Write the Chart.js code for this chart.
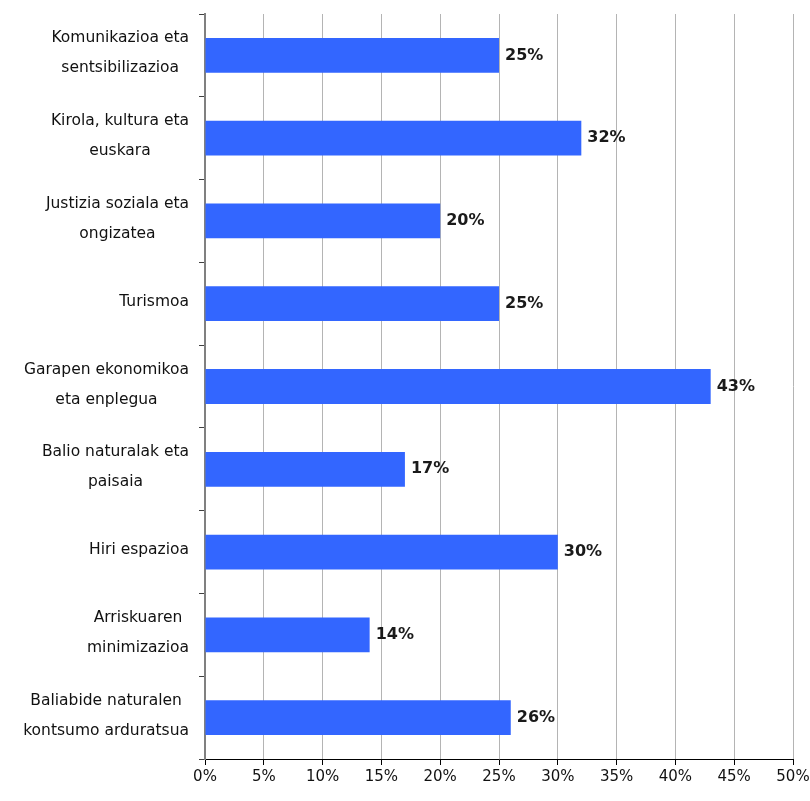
<!DOCTYPE html>
<html>
<head>
<meta charset="utf-8">
<script src="https://cdn.jsdelivr.net/npm/chart.js@4/dist/chart.umd.min.js"></script>
<style>
  html, body { margin: 0; padding: 0; background: #fff; }
  #wrap { width: 810px; height: 801px; }
</style>
</head>
<body>
<div id="wrap"><canvas id="chart" width="810" height="801"></canvas></div>
<script>
// Categories and shares.
const categories = [
  ['Komunikazioa eta', 'sentsibilizazioa'],
  ['Kirola, kultura eta', 'euskara'],
  ['Justizia soziala eta', 'ongizatea'],
  ['Turismoa'],
  ['Garapen ekonomikoa', 'eta enplegua'],
  ['Balio naturalak eta', 'paisaia'],
  ['Hiri espazioa'],
  ['Arriskuaren', 'minimizazioa'],
  ['Baliabide naturalen', 'kontsumo arduratsua'],
];
const shares = [25, 32, 20, 25, 43, 17, 30, 14, 26];
const xTicks = [0, 5, 10, 15, 20, 25, 30, 35, 40, 45, 50];

const FONT = '"DejaVu Sans", sans-serif';

// Category labels: lines centred inside a right-aligned block.
const categoryLabels = {
  id: 'categoryLabels',
  afterDraw(chart) {
    const ctx = chart.ctx;
    const y = chart.scales.y;
    ctx.save();
    ctx.font = '15.5px ' + FONT;
    ctx.fillStyle = '#111';
    ctx.textAlign = 'center';
    ctx.textBaseline = 'middle';
    categories.forEach((lines, i) => {
      const widest = Math.max(...lines.map((l) => ctx.measureText(l).width));
      const cx = y.right - 16 - widest / 2;
      const cy = y.getPixelForTick(i);
      const lh = 30;
      lines.forEach((l, k) => {
        ctx.fillText(l, cx, cy + (k - (lines.length - 1) / 2) * lh - 2);
      });
    });
    ctx.restore();
  },
};

// Value labels to the right of each bar.
const valueLabels = {
  id: 'valueLabels',
  afterDatasetsDraw(chart) {
    const ctx = chart.ctx;
    const meta = chart.getDatasetMeta(0);
    ctx.save();
    ctx.font = 'bold 16px ' + FONT;
    ctx.fillStyle = '#1a1a1a';
    ctx.textAlign = 'left';
    ctx.textBaseline = 'middle';
    meta.data.forEach((bar, i) => {
      ctx.fillText(shares[i] + '%', bar.x + 6, bar.y);
    });
    ctx.restore();
  },
};

new Chart(document.getElementById('chart'), {
  type: 'bar',
  data: {
    labels: categories.map((c) => c.join(' ')),
    datasets: [{
      data: shares,
      backgroundColor: '#3366ff',
      borderWidth: 0,
      categoryPercentage: 1,
      barPercentage: 0.42,
    }],
  },
  options: {
    indexAxis: 'y',
    responsive: false,
    animation: false,
    layout: { padding: { top: 14, right: 17, left: 0, bottom: 0 } },
    plugins: {
      legend: { display: false },
      tooltip: { enabled: false },
    },
    scales: {
      x: {
        min: 0,
        max: 50,
        afterBuildTicks(scale) {
          scale.ticks = xTicks.map((v) => ({ value: v }));
        },
        afterFit(scale) {
          scale.height = 42;
          scale.paddingLeft = 0;
          scale.paddingRight = 0;
        },
        border: { color: '#000', width: 1 },
        grid: {
          color: '#b4b4b4',
          tickColor: '#000',
          tickLength: 6,
        },
        ticks: {
          color: '#111',
          font: { family: FONT, size: 15 },
          padding: 3,
          maxRotation: 0,
          callback: (v) => v + '%',
        },
      },
      y: {
        afterFit(scale) { scale.width = 205; },
        border: { color: '#808080', width: 2 },
        grid: {
          offset: true,
          drawOnChartArea: false,
          color: '#404040',
          tickLength: 6,
        },
        ticks: { display: false },
      },
    },
  },
  plugins: [categoryLabels, valueLabels],
});
</script>
</body>
</html>
